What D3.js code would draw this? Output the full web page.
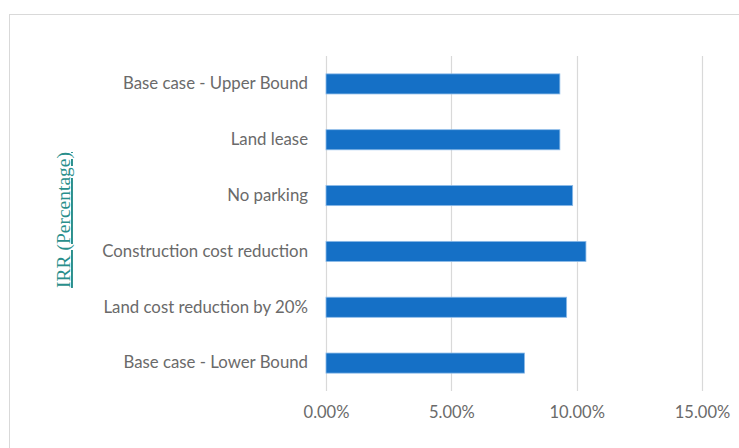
<!DOCTYPE html>
<html>
<head>
<meta charset="utf-8">
<script src="https://cdn.jsdelivr.net/npm/d3@7"></script>
<style>
  html, body { margin: 0; padding: 0; background: #fff; }
  svg { display: block; }
</style>
</head>
<body>
<svg id="chart" width="739" height="448"></svg>
<script>
// IRR by scenario (fraction)
const categories = [
  "Base case - Upper Bound",
  "Land lease",
  "No parking",
  "Construction cost reduction",
  "Land cost reduction by 20%",
  "Base case - Lower Bound"
];
const irrValues = [0.0933, 0.0933, 0.0984, 0.1037, 0.0960, 0.0792];
const tickValues = [0, 0.05, 0.10, 0.15];
const axisTitle = "IRR (Percentage)";

const svg = d3.select("#chart");
const W = 739, H = 448;

// chart frame (extends past the right and bottom edges)
svg.append("rect")
  .attr("x", 9.5).attr("y", 14.5)
  .attr("width", W).attr("height", H)
  .attr("fill", "#fff")
  .attr("stroke", "#d9d9d9").attr("stroke-width", 1);

const plot = { left: 326, right: 702, top: 56, bottom: 391 };

const x = d3.scaleLinear().domain([0, 0.15]).range([plot.left, plot.right]);
const y = d3.scaleBand().domain(categories).range([plot.top, plot.bottom]).paddingInner(0.64).paddingOuter(0.32);

// vertical gridlines
svg.append("g")
  .selectAll("line")
  .data(tickValues)
  .join("line")
  .attr("x1", d => Math.round(x(d)) + 0.5)
  .attr("x2", d => Math.round(x(d)) + 0.5)
  .attr("y1", plot.top)
  .attr("y2", plot.bottom)
  .attr("stroke", "#d9d9d9")
  .attr("stroke-width", 1.2);

// bars
svg.append("g")
  .selectAll("rect")
  .data(categories)
  .join("rect")
  .attr("x", x(0))
  .attr("y", d => y(d))
  .attr("width", (d, i) => x(irrValues[i]) - x(0))
  .attr("height", y.bandwidth())
  .attr("fill", "#1570c6")
  .attr("stroke", "#8dbbe8")
  .attr("stroke-width", 0.8);

const labelFont = "Lato, 'Open Sans', sans-serif";

// category axis
const yAxis = d3.axisLeft(y).tickSize(0).tickPadding(18);
const gy = svg.append("g").attr("transform", `translate(${plot.left},0)`).call(yAxis);
gy.select(".domain").remove();
gy.selectAll("text")
  .attr("fill", "#6a6a6a")
  .style("font-family", labelFont)
  .style("font-size", "16.8px");

// value axis
const xAxis = d3.axisBottom(x).tickValues(tickValues).tickSize(0).tickPadding(15)
  .tickFormat(d3.format(".2%"));
const gx = svg.append("g").attr("transform", `translate(0,${plot.bottom})`).call(xAxis);
gx.select(".domain").remove();
gx.selectAll("text")
  .attr("fill", "#6a6a6a")
  .style("font-family", labelFont)
  .style("font-size", "16.5px");

// rotated axis title, underlined
svg.append("text")
  .attr("transform", "translate(70,220) rotate(-90)")
  .attr("text-anchor", "middle")
  .attr("fill", "#2a8f8c")
  .style("font-family", "'Liberation Serif', 'Times New Roman', serif")
  .style("font-size", "19.5px")
  .style("text-decoration", "underline")
  .text(axisTitle);
</script>
</body>
</html>
